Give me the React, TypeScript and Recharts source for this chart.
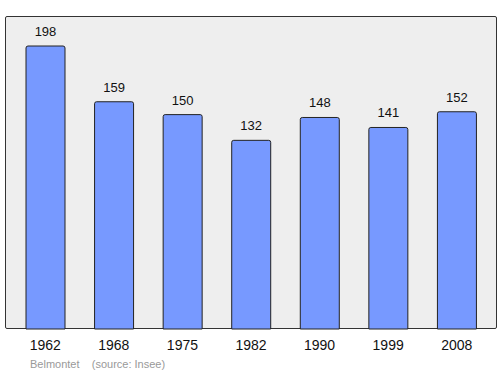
import { Bar, BarChart, LabelList, XAxis, YAxis } from "recharts";

const years = ["1962", "1968", "1975", "1982", "1990", "1999", "2008"];
const population = [198, 159, 150, 132, 148, 141, 152];

const data = years.map((year, i) => ({ year, population: population[i] }));

const font = "'Liberation Sans', Arial, sans-serif";

export default function App() {
  return (
    <div style={{ position: "absolute", left: 0, top: 0, width: 500, height: 374, background: "#fff", fontFamily: font }}>
      <div
        style={{
          position: "absolute",
          left: 5,
          top: 16,
          width: 492,
          height: 313,
          boxSizing: "border-box",
          background: "#eeeeee",
          border: "1.5px solid #333",
          borderRadius: 2
        }}
      />
      <div style={{ position: "absolute", left: 0, top: 0 }}>
        <BarChart width={500} height={374} data={data} margin={{ top: 16, right: 3, left: 5, bottom: 0 }}>
          <YAxis hide domain={[0, 219]} />
          <XAxis
            dataKey="year"
            height={45}
            padding={{ left: 6, right: 6 }}
            axisLine={false}
            tickLine={false}
            tickSize={0}
            tickMargin={11}
            tick={{ fill: "#111", fontSize: 14, fontFamily: font }}
          />
          <Bar
            dataKey="population"
            barSize={39}
            fill="#7799ff"
            stroke="#222"
            strokeWidth={1}
            radius={[2, 2, 0, 0]}
            isAnimationActive={false}
          >
            <LabelList dataKey="population" position="top" offset={10} fill="#111" fontSize={13} fontFamily={font} />
          </Bar>
        </BarChart>
      </div>
      <div style={{ position: "absolute", left: 30, top: 358, fontSize: 11, color: "#999", whiteSpace: "pre" }}>
        {"Belmontet    (source: Insee)"}
      </div>
    </div>
  );
}
